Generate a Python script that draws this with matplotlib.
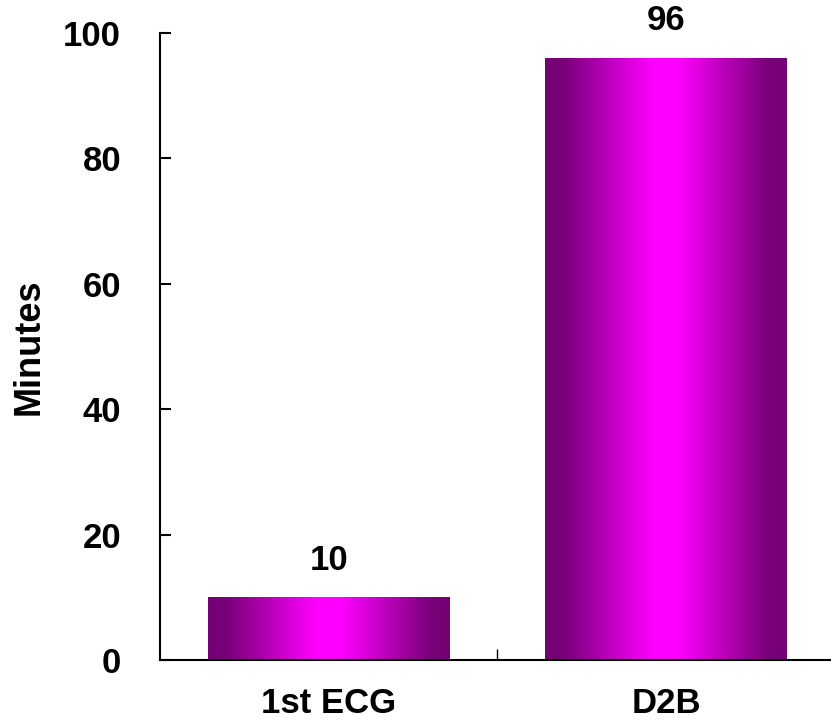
import numpy as np
import matplotlib.pyplot as plt
from matplotlib.colors import LinearSegmentedColormap

categories = ['1st ECG', 'D2B']
minutes = [10, 96]

plt.rcParams['font.family'] = ['Liberation Sans', 'DejaVu Sans']
plt.rcParams['font.weight'] = 'bold'

fig = plt.figure(figsize=(8.31, 7.26), dpi=100)
ax = fig.add_axes([0.1925, 0.0909, 0.812, 0.8636])

x = np.arange(len(categories))
bars = ax.bar(x, minutes, width=0.717, color='none', edgecolor='none', zorder=2)

# horizontal shading: dark purple at the sides, bright magenta in the middle
cmap = LinearSegmentedColormap.from_list(
    'purple_shade',
    [(0.0, '#730073'), (0.08, '#7a007a'), (0.45, '#ff00ff'),
     (0.55, '#ff00ff'), (0.92, '#7a007a'), (1.0, '#730073')])
grad = np.linspace(0, 1, 256).reshape(1, -1)
for b in bars:
    x0 = b.get_x()
    ax.imshow(grad, cmap=cmap, aspect='auto', interpolation='bicubic',
              extent=(x0, x0 + b.get_width(), 0, b.get_height()),
              clip_path=b, clip_on=True, zorder=2)

for xi, v in zip(x, minutes):
    ax.text(xi, v + 3.3, str(v), ha='center', va='bottom', fontsize=25, fontweight='bold')

ax.set_xlim(-0.5, 1.5)
ax.set_ylim(0, 100)
ax.set_yticks([0, 20, 40, 60, 80, 100])
ax.set_xticks([0.5])
ax.set_xticklabels([''])
ax.tick_params(axis='y', direction='in', length=8, width=1.5, labelsize=25, pad=28)
ax.tick_params(axis='x', direction='in', length=8, width=1)
for xi, c in zip(x, categories):
    ax.text(xi, -4.3, c, ha='center', va='top', fontsize=25, fontweight='bold')

ax.set_ylabel('Minutes', fontsize=26, fontweight='bold', labelpad=12)
ax.spines['top'].set_visible(False)
ax.spines['right'].set_visible(False)
ax.spines['left'].set_linewidth(1.5)
ax.spines['bottom'].set_linewidth(1.5)

fig.savefig('out.png', dpi=100)
